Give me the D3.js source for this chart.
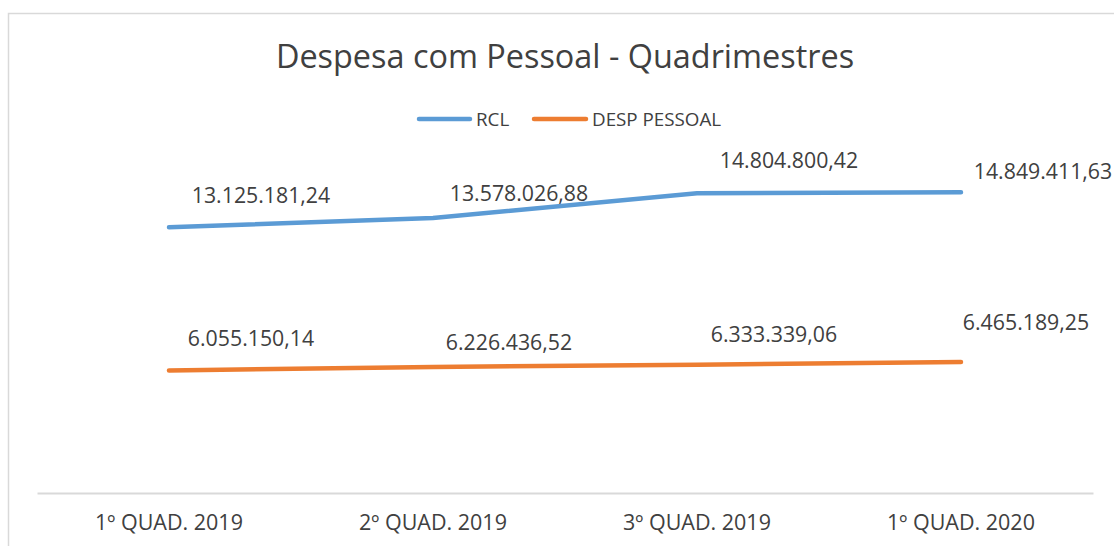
<!DOCTYPE html>
<html>
<head>
<meta charset="utf-8">
<script src="https://cdn.jsdelivr.net/npm/d3@7"></script>
<style>
  html, body { margin: 0; padding: 0; background: #fff; }
  svg { display: block; font-family: "Open Sans", "Noto Sans", sans-serif; }
</style>
</head>
<body>
<svg id="chart" width="1114" height="546"></svg>
<script>
// ---- data ----
const categories = ["1º QUAD. 2019", "2º QUAD. 2019", "3º QUAD. 2019", "1º QUAD. 2020"];
const rclValues = [13125181.24, 13578026.88, 14804800.42, 14849411.63];
const despValues = [6055150.14, 6226436.52, 6333339.06, 6465189.25];
const seriesNames = ["RCL", "DESP PESSOAL"];
const yDomain = [0, 20000000];

// ---- layout ----
const W = 1114, H = 546;
const plot = { left: 37, right: 1093, top: 88, bottom: 493 };
const colors = ["#5B9BD5", "#ED7D31"];
// manual label offsets (dx, dy from point) as in the reference
const labelOffsets = [
  [[92, -24], [86, -17], [92, -25], [82, -13]],
  [[82, -24], [76, -17], [77, -23], [65, -32]]
];

const svg = d3.select("#chart");

// outer chart border
svg.append("rect")
  .attr("x", 8.5).attr("y", 13.5)
  .attr("width", W + 20).attr("height", H + 20)
  .attr("fill", "none").attr("stroke", "#D9D9D9").attr("stroke-width", 1.5);

const x = d3.scaleBand().domain(categories).range([plot.left, plot.right]);
const y = d3.scaleLinear().domain(yDomain).range([plot.bottom, plot.top]);

// title
svg.append("text")
  .attr("x", 565).attr("y", 68)
  .attr("text-anchor", "middle")
  .attr("font-size", 32.4)
  .attr("fill", "#404040")
  .text("Despesa com Pessoal - Quadrimestres");

// x axis
const xAxis = d3.axisBottom(x).tickSize(0).tickPadding(22);
const gx = svg.append("g").attr("transform", `translate(0,${y(0)})`).call(xAxis);
gx.select(".domain").attr("stroke", "#D9D9D9").attr("stroke-width", 2);
gx.selectAll("text").attr("font-size", 21.5).attr("fill", "#404040")
  .attr("font-family", "\"Open Sans\", sans-serif");

// lines
const series = [rclValues, despValues];
const line = d3.line()
  .x((d, i) => x(categories[i]) + x.bandwidth() / 2)
  .y(d => y(d));

series.forEach((vals, si) => {
  svg.append("path")
    .datum(vals)
    .attr("d", line)
    .attr("fill", "none")
    .attr("stroke", colors[si])
    .attr("stroke-width", 4.5)
    .attr("stroke-linecap", "round")
    .attr("stroke-linejoin", "round");
});

// data labels
const fmt = v => {
  const [intPart, dec] = v.toFixed(2).split(".");
  return intPart.replace(/\B(?=(\d{3})+(?!\d))/g, ".") + "," + dec;
};
series.forEach((vals, si) => {
  svg.append("g").selectAll("text")
    .data(vals)
    .join("text")
    .attr("x", (d, i) => x(categories[i]) + x.bandwidth() / 2 + labelOffsets[si][i][0])
    .attr("y", (d, i) => y(d) + labelOffsets[si][i][1])
    .attr("text-anchor", "middle")
    .attr("font-size", 21.3)
    .attr("fill", "#404040")
    .text(d => fmt(d));
});

// legend
const legend = svg.append("g");
const legendItems = [
  { name: seriesNames[0], color: colors[0], x1: 419, x2: 470, tx: 476 },
  { name: seriesNames[1], color: colors[1], x1: 534, x2: 586, tx: 592 }
];
legendItems.forEach(it => {
  legend.append("line")
    .attr("x1", it.x1).attr("x2", it.x2)
    .attr("y1", 119).attr("y2", 119)
    .attr("stroke", it.color).attr("stroke-width", 4.5)
    .attr("stroke-linecap", "round");
  legend.append("text")
    .attr("x", it.tx).attr("y", 126)
    .attr("font-size", 18.8)
    .attr("fill", "#404040")
    .text(it.name);
});
</script>
</body>
</html>
